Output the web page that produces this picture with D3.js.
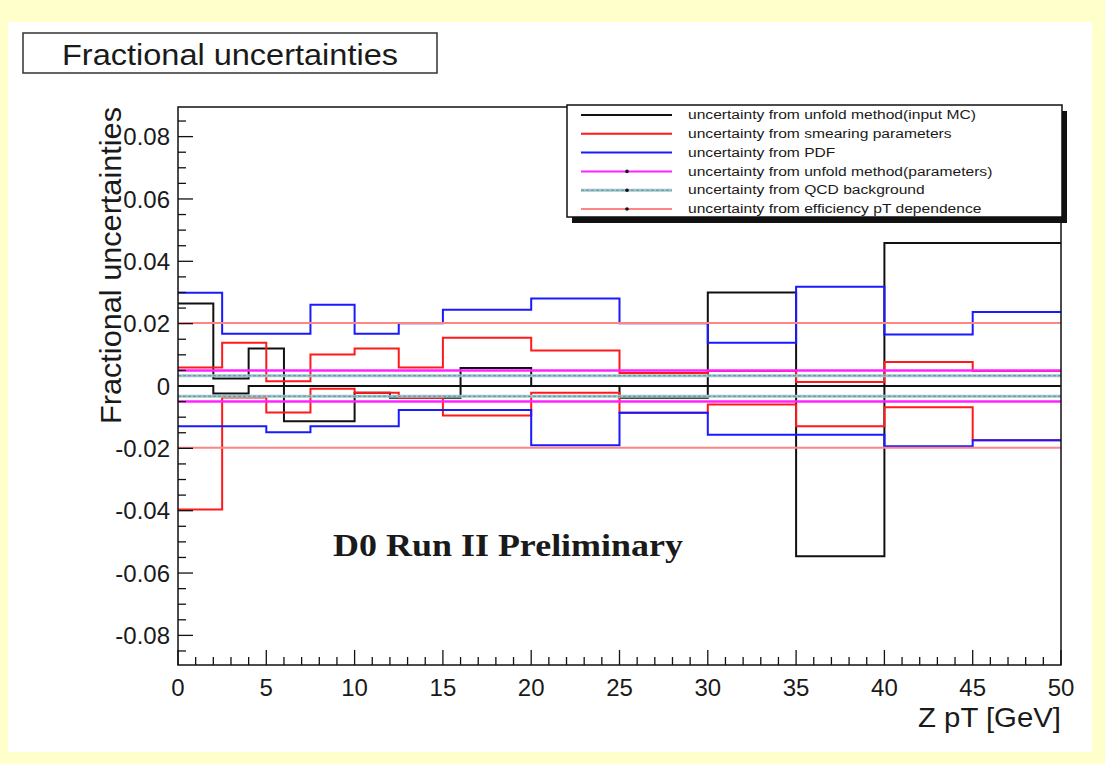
<!DOCTYPE html>
<html>
<head>
<meta charset="utf-8">
<script src="https://cdn.jsdelivr.net/npm/d3@7"></script>
<style>
  html, body { margin: 0; padding: 0; background: #ffffcc; }
  svg { display: block; }
  text { font-family: "Liberation Sans", Arial, Helvetica, sans-serif; fill: #1a1a1a; }
</style>
</head>
<body>
<svg id="chart" width="1105" height="764"></svg>
<script>
// Bin edges (Z pT, GeV)
const inputMcEdges = [0, 2, 4, 6, 10, 12, 16, 20, 25, 30, 35, 40, 50];
const binEdges = [0, 2.5, 5, 7.5, 10, 12.5, 15, 20, 25, 30, 35, 40, 45, 50];
const fullRange = [0, 50];

// Unfolding method (input MC): upper and lower envelopes
const inputMcUp   = [0.0265, 0.0024, 0.012, 0, 0, 0, 0.0058, 0, 0, 0.030, 0, 0.0459];
const inputMcDown = [0, -0.0024, 0, -0.0113, -0.0022, -0.0038, 0, 0, -0.0038, 0, -0.0546, 0];

// Smearing parameters
const smearUp   = [0.0059, 0.0139, 0.0015, 0.0101, 0.012, 0.0059, 0.0155, 0.0114, 0.0042, 0.0048, 0.0013, 0.0077, 0.0048];
const smearDown = [-0.0396, -0.0037, -0.0085, -0.0009, -0.0022, -0.0038, -0.0095, -0.0022, -0.0086, -0.0059, -0.0129, -0.0068, -0.0174];

// PDF
const pdfUp   = [0.0299, 0.0168, 0.0168, 0.0261, 0.0168, 0.0201, 0.0245, 0.0281, 0.0201, 0.0139, 0.0318, 0.0165, 0.0237];
const pdfDown = [-0.0129, -0.0129, -0.0148, -0.0129, -0.0129, -0.0077, -0.0077, -0.019, -0.0086, -0.0156, -0.0156, -0.0193, -0.0174];

// Flat uncertainties over the full range
const unfoldParamUp = [0.005],  unfoldParamDown = [-0.005];
const qcdUp = [0.0033],         qcdDown = [-0.0033];
const effUp = [0.0202],         effDown = [-0.0198];

// Axis ticks
const xTickValues = [0, 5, 10, 15, 20, 25, 30, 35, 40, 45, 50];
const yTickValues = [-0.08, -0.06, -0.04, -0.02, 0, 0.02, 0.04, 0.06, 0.08];
const yTickLabels = ["-0.08", "-0.06", "-0.04", "-0.02", "0", "0.02", "0.04", "0.06", "0.08"];

const legendLabels = [
  "uncertainty from unfold method(input MC)",
  "uncertainty from smearing parameters",
  "uncertainty from PDF",
  "uncertainty from unfold method(parameters)",
  "uncertainty from QCD background",
  "uncertainty from efficiency pT dependence"
];

const C = {
  mc: "#111111", smear: "#ff1a1a", pdf: "#1a1aff",
  param: "#ff22ff", qcd: "#9ec4cc", qcdDash: "#6d8c9c", eff: "#ff8585"
};

(function () {
const svg = d3.select("#chart");

// white canvas area
svg.append("rect").attr("x", 8).attr("y", 22).attr("width", 1084).attr("height", 730).attr("fill", "#ffffff");

const fL = 178, fR = 1061, fT = 107, fB = 665;
const x = d3.scaleLinear().domain([0, 50]).range([fL, fR]);
const y = d3.scaleLinear().domain([-0.0895, 0.0895]).range([fB, fT]);

// Title box
const titleG = svg.append("g");
titleG.append("rect").attr("x", 23).attr("y", 33).attr("width", 414).attr("height", 40)
  .attr("fill", "#fff").attr("stroke", "#333").attr("stroke-width", 1.5);
titleG.append("text").attr("x", 230).attr("y", 65).attr("text-anchor", "middle")
  .attr("font-size", 29).attr("textLength", 336).attr("lengthAdjust", "spacingAndGlyphs")
  .attr("fill", "#222")
  .text("Fractional uncertainties");

const plot = svg.append("g");
const clip = svg.append("clipPath").attr("id", "frame");
clip.append("rect").attr("x", fL).attr("y", fT).attr("width", fR - fL).attr("height", fB - fT);

const step = d3.line().x(d => x(d[0])).y(d => y(d[1])).curve(d3.curveStepAfter);
function histPoints(edges, vals) {
  const pts = vals.map((v, i) => [edges[i], v]);
  pts.push([edges[edges.length - 1], vals[vals.length - 1]]);
  return pts;
}
function drawHist(edges, vals, color, width, dash) {
  plot.append("path").attr("clip-path", "url(#frame)")
    .attr("d", step(histPoints(edges, vals)))
    .attr("fill", "none").attr("stroke", color).attr("stroke-width", width)
    .attr("stroke-dasharray", dash || null);
}

drawHist(inputMcEdges, inputMcUp, C.mc, 2);
drawHist(inputMcEdges, inputMcDown, C.mc, 2);
drawHist(binEdges, smearUp, C.smear, 2);
drawHist(binEdges, smearDown, C.smear, 2);
drawHist(binEdges, pdfUp, C.pdf, 2);
drawHist(binEdges, pdfDown, C.pdf, 2);
drawHist(fullRange, unfoldParamUp, C.param, 2.5);
drawHist(fullRange, unfoldParamDown, C.param, 2.5);
drawHist(fullRange, qcdUp, C.qcd, 3);
drawHist(fullRange, qcdUp, C.qcdDash, 1, "3,2");
drawHist(fullRange, qcdDown, C.qcd, 3);
drawHist(fullRange, qcdDown, C.qcdDash, 1, "3,2");
drawHist(fullRange, effUp, C.eff, 2);
drawHist(fullRange, effDown, C.eff, 2);

// Frame
svg.append("rect").attr("x", fL).attr("y", fT).attr("width", fR - fL).attr("height", fB - fT)
  .attr("fill", "none").attr("stroke", "#111").attr("stroke-width", 1.5);

// X axis: ticks drawn inward
const xMinor = d3.range(0, 51, 1);
const xAxisG = svg.append("g");
xAxisG.selectAll("line").data(xMinor).join("line")
  .attr("x1", d => x(d)).attr("x2", d => x(d))
  .attr("y1", fB).attr("y2", d => fB - (d % 5 === 0 ? 15 : 8))
  .attr("stroke", "#111").attr("stroke-width", 1.3);
xAxisG.selectAll("text").data(xTickValues).join("text")
  .attr("x", d => x(d)).attr("y", 696).attr("text-anchor", "middle")
  .attr("font-size", 24).text(d => d);
svg.append("text").attr("x", fR).attr("y", 727).attr("text-anchor", "end")
  .attr("font-size", 28).attr("textLength", 143).attr("lengthAdjust", "spacingAndGlyphs")
  .text("Z pT [GeV]");

// Y axis
const yMinor = d3.range(-17, 18).map(k => k * 0.005);
const yAxisG = svg.append("g");
yAxisG.selectAll("line").data(yMinor).join("line")
  .attr("x1", fL).attr("x2", (d, i) => fL + ((i - 1) % 4 === 0 ? 15 : 8))
  .attr("y1", d => y(d)).attr("y2", d => y(d))
  .attr("stroke", "#111").attr("stroke-width", 1.3);
yAxisG.selectAll("text").data(yTickValues).join("text")
  .attr("x", 170).attr("y", d => y(d)).attr("dy", "0.36em").attr("text-anchor", "end")
  .attr("font-size", 24).text((d, i) => yTickLabels[i]);
svg.append("text").attr("transform", `translate(121,${fT}) rotate(-90)`)
  .attr("text-anchor", "end").attr("font-size", 29).attr("fill", "#2a2a2a")
  .attr("textLength", 317).attr("lengthAdjust", "spacingAndGlyphs")
  .text("Fractional uncertainties");

// Experiment label
svg.append("text").attr("x", 508).attr("y", 556).attr("text-anchor", "middle")
  .style("font-family", "'Liberation Serif', 'Times New Roman', serif")
  .attr("font-weight", "bold").attr("font-size", 31).attr("fill", "#222")
  .attr("textLength", 350).attr("lengthAdjust", "spacingAndGlyphs")
  .text("D0 Run II Preliminary");

// Legend with drop shadow
const lg = svg.append("g");
const lgX = 567, lgY = 105, lgW = 495, lgH = 112;
lg.append("rect").attr("x", lgX + 5).attr("y", lgY + 6).attr("width", lgW).attr("height", lgH).attr("fill", "#111");
lg.append("rect").attr("x", lgX).attr("y", lgY).attr("width", lgW).attr("height", lgH)
  .attr("fill", "#fff").attr("stroke", "#111").attr("stroke-width", 1.5);

const legendStyle = [
  { color: C.mc, marker: false },
  { color: C.smear, marker: false },
  { color: C.pdf, marker: false },
  { color: C.param, marker: true },
  { color: C.qcd, marker: true, dash: C.qcdDash },
  { color: C.eff, marker: true }
];
const rows = lg.selectAll("g.row").data(legendLabels).join("g").attr("class", "row")
  .attr("transform", (d, i) => `translate(0,${115 + i * 18.8})`);
rows.append("line").attr("x1", 581).attr("x2", 672).attr("y1", 0).attr("y2", 0)
  .attr("stroke", (d, i) => legendStyle[i].color).attr("stroke-width", (d, i) => i === 4 ? 3 : 2);
rows.filter((d, i) => legendStyle[i].dash).append("line")
  .attr("x1", 581).attr("x2", 672).attr("y1", 0).attr("y2", 0)
  .attr("stroke", C.qcdDash).attr("stroke-width", 1).attr("stroke-dasharray", "3,2");
rows.filter((d, i) => legendStyle[i].marker).append("circle")
  .attr("cx", 627).attr("cy", 0).attr("r", 1.8).attr("fill", "#111");
rows.append("text").attr("x", 688).attr("y", 0).attr("dy", "0.35em")
  .attr("font-size", 12).attr("fill", "#222")
  .text(d => d)
  .each(function () {
    const w = this.getComputedTextLength();
    d3.select(this).attr("textLength", w * 1.3).attr("lengthAdjust", "spacingAndGlyphs");
  });
})();
</script>
</body>
</html>
